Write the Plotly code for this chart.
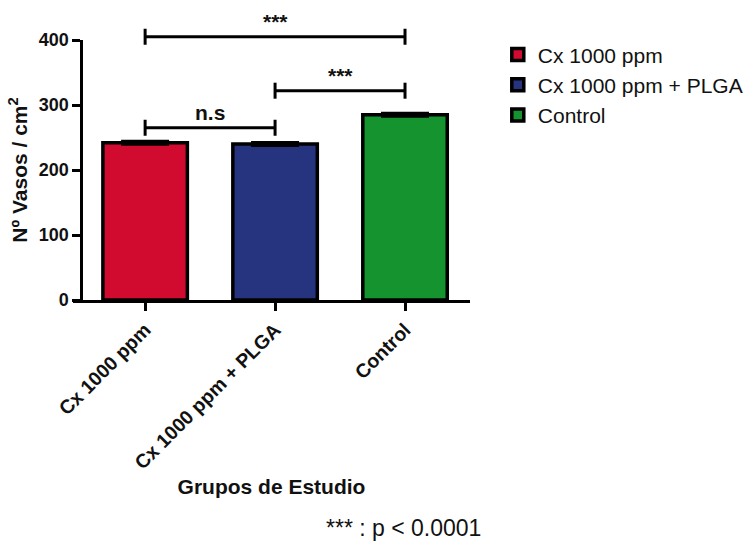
import plotly.graph_objects as go

# ---- data ----
categories = ["Cx 1000 ppm", "Cx 1000 ppm + PLGA", "Control"]
vessel_density = [242, 240, 285]
vessel_sem = [3, 3, 3]
bar_colors = ["#D10A30", "#26347F", "#14932E"]

y_ticks = [0, 100, 200, 300, 400]
Y_MAX = 400

# significance brackets: (from category index, to category index, level, label)
brackets = [
    (0, 2, 405, "***"),
    (1, 2, 322, "***"),
    (0, 1, 265, "n.s"),
]
footnote = "*** : p < 0.0001"

FONT = "Arial, 'Liberation Sans', sans-serif"

fig = go.Figure()
for i, (cat, val, err, col) in enumerate(zip(categories, vessel_density, vessel_sem, bar_colors)):
    fig.add_trace(go.Bar(
        x=[i], y=[val], name=cat, width=0.65,
        marker=dict(color=col, line=dict(color="black", width=3.5)),
        error_y=dict(type="data", array=[err], visible=True, color="black",
                     thickness=2, width=24),
    ))

X_MIN, X_MAX = -0.555, 2.5
Y_AXIS_X = -0.493
y_pos = (Y_AXIS_X - X_MIN) / (X_MAX - X_MIN)

cap = 8 / 260  # cap half-height in y-domain units
shapes = []
annotations = []
for a, b, level, label in brackets:
    yd = level / Y_MAX
    line = dict(color="black", width=3)
    shapes.append(dict(type="line", xref="x", yref="y domain", x0=a, x1=b, y0=yd, y1=yd, line=line))
    for xe in (a, b):
        shapes.append(dict(type="line", xref="x", yref="y domain", x0=xe, x1=xe,
                           y0=yd - cap, y1=yd + cap, line=line))
    annotations.append(dict(
        x=(a + b) / 2, y=yd, xref="x", yref="y domain", text=f"<b>{label}</b>",
        showarrow=False, yanchor="bottom", yshift=2,
        font=dict(family=FONT, size=21, color="#111"),
    ))

annotations.append(dict(
    x=(403 - 73) / 397, y=(300 - 528) / 260, xref="paper", yref="paper",
    text=footnote, showarrow=False, xanchor="center", yanchor="middle",
    font=dict(family=FONT, size=23, color="#111"),
))

fig.update_layout(
    width=747, height=541,
    margin=dict(l=73, r=277, t=40, b=241, autoexpand=False),
    paper_bgcolor="white", plot_bgcolor="white",
    barmode="overlay",
    showlegend=True,
    legend=dict(x=1.07, y=1.022, xanchor="left", yanchor="top",
                font=dict(family=FONT, size=21, color="#111"),
                bgcolor="rgba(0,0,0,0)"),
    xaxis=dict(
        range=[X_MIN, X_MAX], tickmode="array", tickvals=list(range(len(categories))),
        ticktext=[f"<b>{c}</b>" for c in categories], tickangle=-45,
        showline=True, linecolor="black", linewidth=2.5,
        ticks="outside", ticklen=8, tickwidth=2.5, tickcolor="black",
        showgrid=False, zeroline=False,
        tickfont=dict(family=FONT, size=19.5, color="#111"),
        title=dict(text="<b>Grupos de Estudio</b>", font=dict(family=FONT, size=21, color="#111"),
                   standoff=8),
    ),
    yaxis=dict(
        range=[0, Y_MAX], tickmode="array", tickvals=y_ticks,
        ticktext=[f"<b>{t}</b>" for t in y_ticks],
        anchor="free", position=y_pos,
        showline=True, linecolor="black", linewidth=2.5,
        ticks="outside", ticklen=8, tickwidth=2.5, tickcolor="black",
        showgrid=False, zeroline=False,
        tickfont=dict(family=FONT, size=18, color="#111"),
        title=dict(text="<b>Nº Vasos / cm<sup>2</sup></b>", font=dict(family=FONT, size=21, color="#111"),
                   standoff=4),
    ),
    shapes=shapes,
    annotations=annotations,
)

fig.write_html("out.html", config={"displayModeBar": False},
               post_script="document.body.style.margin='0';")
